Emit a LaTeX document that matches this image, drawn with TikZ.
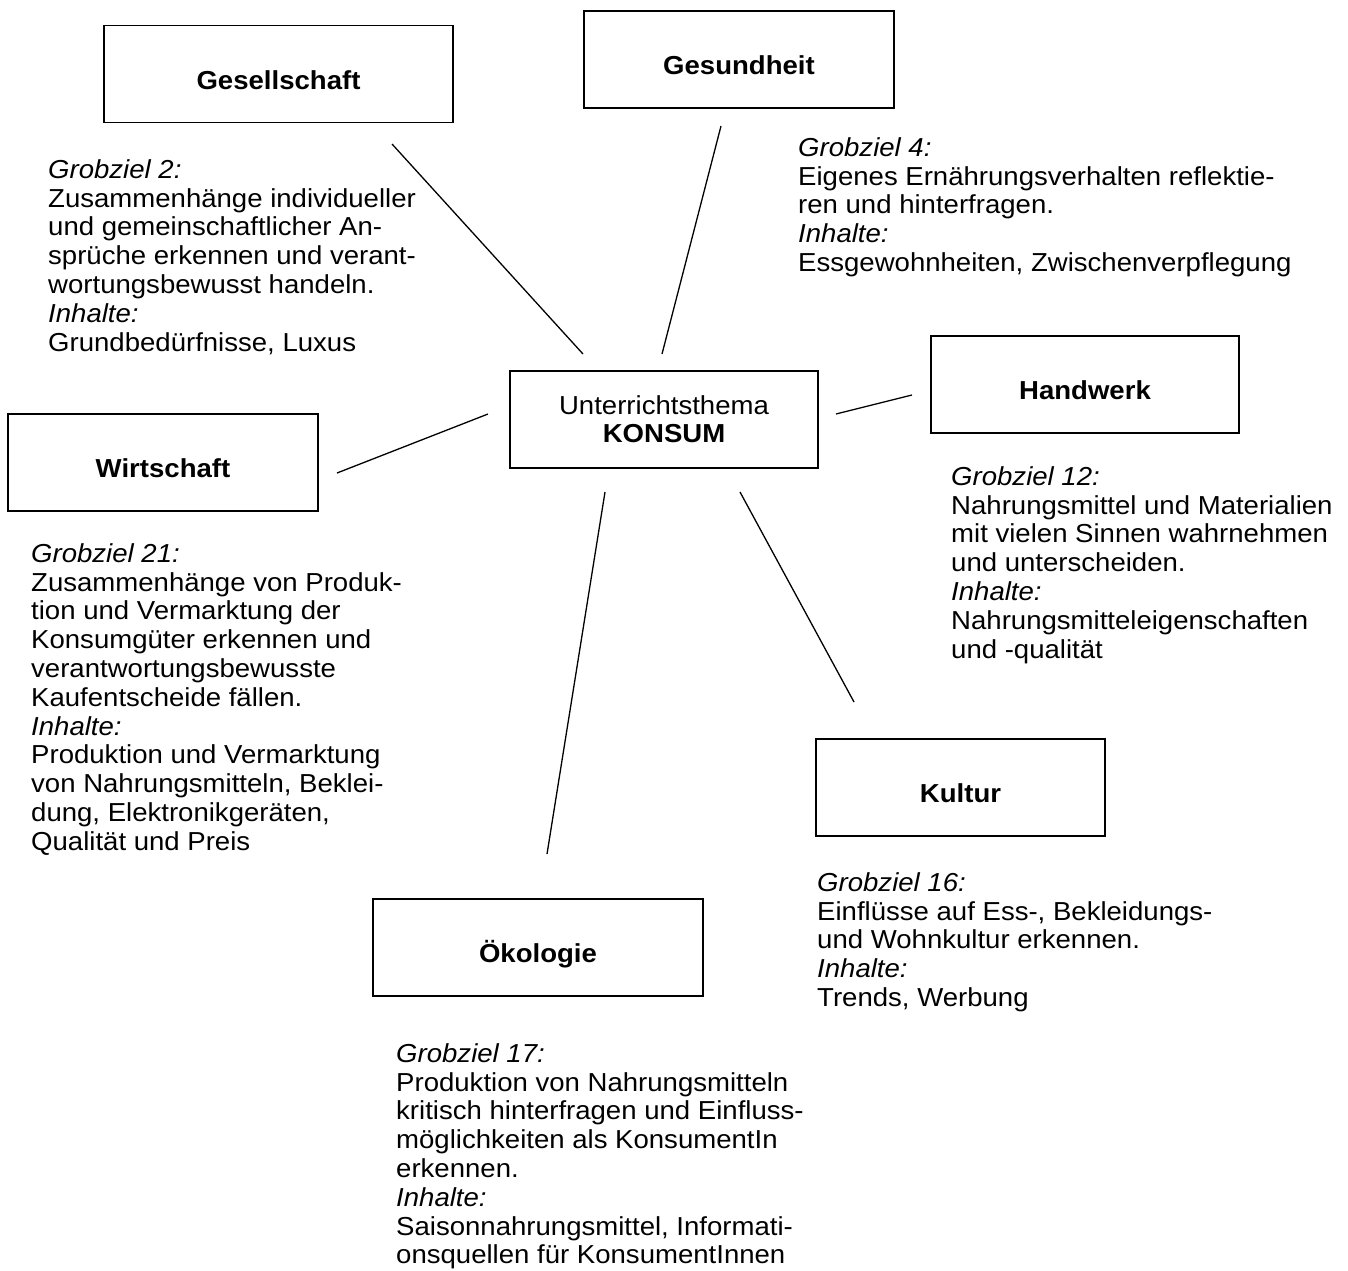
\documentclass[tikz,border=0pt]{standalone}
\usepackage{fontspec}
\setmainfont{Liberation Sans}[FakeStretch=1.06]
\begin{document}
\begin{tikzpicture}[x=1pt,y=-1pt,
  every node/.style={font=\fontsize{26}{28.8}\selectfont},
  box/.style={draw, line width=1.8pt, minimum height=97pt, inner sep=0pt,
    font=\fontsize{26}{28.8}\selectfont\bfseries, text height=30pt, text depth=0pt},
  centrebox/.style={draw, line width=1.8pt, minimum height=97pt, minimum width=308pt,
    inner sep=0pt, align=center, font=\fontsize{26}{28}\selectfont},
  blk/.style={anchor=north west, inner sep=0pt, align=left},
  conn/.style={line width=1.3pt}]
\useasboundingbox[fill=white] (0,0) rectangle (1348,1270);

% boxes
\node[box, minimum width=349pt] (ges) at (278.5,74) {Gesellschaft};
\node[box, minimum width=310pt] (gesund) at (739,59.5) {Gesundheit};
\node[box, minimum width=308pt] (hand) at (1085,384.5) {Handwerk};
\node[box, minimum width=310pt] (wirt) at (163,462.5) {Wirtschaft};
\node[centrebox] (konsum) at (664,419.5) {Unterrichtsthema\\\textbf{KONSUM}};
\node[box, minimum width=289pt] (kultur) at (960.5,787.5) {Kultur};
\node[box, minimum width=330pt] (oeko) at (538,947.5) {Ökologie};

% connector end points
\coordinate (gesA) at (392,144);   \coordinate (gesB) at (583,354);
\coordinate (gsdA) at (721,126);   \coordinate (gsdB) at (662,354);
\coordinate (hwA) at (836,414);    \coordinate (hwB) at (912,395);
\coordinate (wiA) at (337,473);    \coordinate (wiB) at (488,414);
\coordinate (kuA) at (740,492);    \coordinate (kuB) at (854,702);
\coordinate (okA) at (605,492);    \coordinate (okB) at (547,854);

\draw[conn] (gesA) -- (gesB);
\draw[conn] (gsdA) -- (gsdB);
\draw[conn] (hwA) -- (hwB);
\draw[conn] (wiA) -- (wiB);
\draw[conn] (kuA) -- (kuB);
\draw[conn] (okA) -- (okB);

% text blocks
\node[blk] (g2) at (48,159.3) {\textit{Grobziel 2:}\\Zusammenhänge individueller\\und gemeinschaftlicher An-\\sprüche erkennen und verant-\\wortungsbewusst handeln.\\\textit{Inhalte:}\\Grundbedürfnisse, Luxus};
\node[blk] (g4) at (798,137.3) {\textit{Grobziel 4:}\\Eigenes Ernährungsverhalten reflektie-\\ren und hinterfragen.\\\textit{Inhalte:}\\Essgewohnheiten, Zwischenverpflegung};
\node[blk] (g12) at (951,466.3) {\textit{Grobziel 12:}\\Nahrungsmittel und Materialien\\mit vielen Sinnen wahrnehmen\\und unterscheiden.\\\textit{Inhalte:}\\Nahrungsmitteleigenschaften\\und -qualität};
\node[blk] (g21) at (31,543.3) {\textit{Grobziel 21:}\\Zusammenhänge von Produk-\\tion und Vermarktung der\\Konsumgüter erkennen und\\verantwortungsbewusste\\Kaufentscheide fällen.\\\textit{Inhalte:}\\Produktion und Vermarktung\\von Nahrungsmitteln, Beklei-\\dung, Elektronikgeräten,\\Qualität und Preis};
\node[blk] (g16) at (817,872.3) {\textit{Grobziel 16:}\\Einflüsse auf Ess-, Bekleidungs-\\und Wohnkultur erkennen.\\\textit{Inhalte:}\\Trends, Werbung};
\node[blk] (g17) at (396,1043.3) {\textit{Grobziel 17:}\\Produktion von Nahrungsmitteln\\kritisch hinterfragen und Einfluss-\\möglichkeiten als KonsumentIn\\erkennen.\\\textit{Inhalte:}\\Saisonnahrungsmittel, Informati-\\onsquellen für KonsumentInnen};
\end{tikzpicture}
\end{document}
